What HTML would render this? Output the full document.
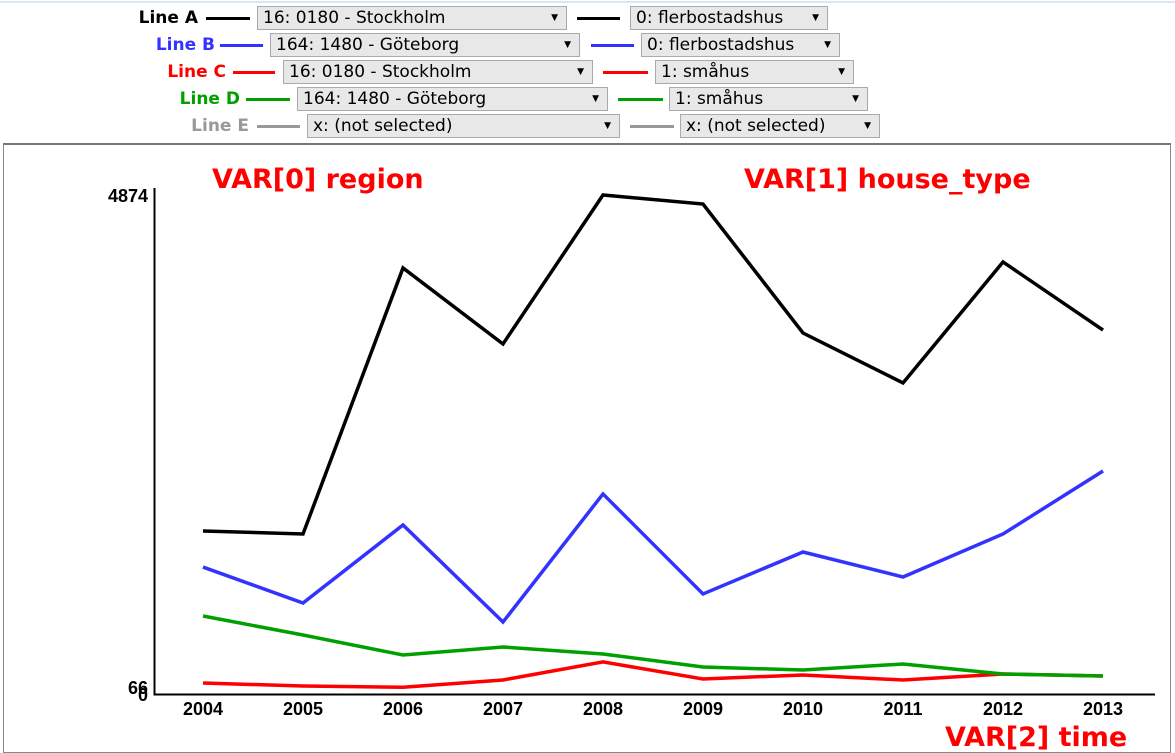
<!DOCTYPE html>
<html><head><meta charset="utf-8"><style>
body{margin:0;width:1175px;height:750px;background:#fff;font-family:"DejaVu Sans","Liberation Sans",sans-serif;position:relative;overflow:hidden}
.lbl{position:absolute;font-weight:bold;font-size:17px;text-align:right;width:120px;line-height:24px}
.seg{position:absolute;height:3px}
.sel{position:absolute;height:24px;background:#e8e8e8;border:1px solid #aaa;box-sizing:border-box;font-size:17px;line-height:22px;padding-left:5px;color:#000;white-space:nowrap}
.sel span{position:absolute;right:8px;top:0;font-size:9px}
</style></head><body>
<div style="position:absolute;left:0;top:1px;width:1175px;height:2px;background:#dde6f5"></div>
<div id="ctrl"></div>
<div style="position:absolute;left:3px;top:143px;width:1168px;height:610px;border:1px solid #888;border-top:2px solid #777;box-sizing:border-box"></div>
<svg id="chart" width="1175" height="750" style="position:absolute;left:0;top:0" font-family="Liberation Sans, sans-serif"></svg>
<script>
const rows=[
 {n:'Line A',c:'#000',lx:198,s1:[206,250],b1:[257,567],t1:'16: 0180 - Stockholm',s2:[577,620],b2:[630,828],t2:'0: flerbostadshus'},
 {n:'Line B',c:'#3333ff',lx:215,s1:[220,263],b1:[270,580],t1:'164: 1480 - Göteborg',s2:[591,634],b2:[641,840],t2:'0: flerbostadshus'},
 {n:'Line C',c:'#ff0000',lx:226,s1:[233,275],b1:[283,593],t1:'16: 0180 - Stockholm',s2:[603,648],b2:[655,854],t2:'1: småhus'},
 {n:'Line D',c:'#00a000',lx:240,s1:[246,290],b1:[297,608],t1:'164: 1480 - Göteborg',s2:[618,663],b2:[669,868],t2:'1: småhus'},
 {n:'Line E',c:'#999',lx:249,s1:[257,300],b1:[307,620],t1:'x: (not selected)',s2:[630,674],b2:[680,880],t2:'x: (not selected)'}];
const ctrl=document.getElementById('ctrl');
rows.forEach((r,i)=>{
 const cy=18+27*i;
 let h='';
 h+=`<div class="lbl" style="left:${r.lx-120}px;top:${cy-12}px;color:${r.c}">${r.n}</div>`;
 h+=`<div class="seg" style="left:${r.s1[0]}px;width:${r.s1[1]-r.s1[0]}px;top:${cy-1}px;background:${r.c}"></div>`;
 h+=`<div class="sel" style="left:${r.b1[0]}px;width:${r.b1[1]-r.b1[0]}px;top:${cy-12}px">${r.t1}<span>▼</span></div>`;
 h+=`<div class="seg" style="left:${r.s2[0]}px;width:${r.s2[1]-r.s2[0]}px;top:${cy-1}px;background:${r.c}"></div>`;
 h+=`<div class="sel" style="left:${r.b2[0]}px;width:${r.b2[1]-r.b2[0]}px;top:${cy-12}px">${r.t2}<span>▼</span></div>`;
 ctrl.insertAdjacentHTML('beforeend',h);
});
</script>
<script>
const years=[2004,2005,2006,2007,2008,2009,2010,2011,2012,2013];
const lineA=[1592,1563,4161,3419,4874,4786,3526,3038,4220,3555];
const lineB=[1240,889,1651,703,1954,977,1387,1143,1563,2178];
const lineC=[107,78,66,137,313,147,186,137,195,176];
const lineD=[762,576,381,459,391,264,234,293,195,176];
const yTicks=[0,66,4874];
const yMax=4874;
const svg=document.getElementById('chart');
const NS='http://www.w3.org/2000/svg';
const x=i=>203+i*100;
const y=v=>694-v/yMax*499;
function mk(t,a,txt){const e=document.createElementNS(NS,t);for(const k in a)e.setAttribute(k,a[k]);if(txt!=null)e.textContent=txt;svg.appendChild(e);return e;}
let ax=mk('path',{d:'M154.5 188 V694.5 H1155',stroke:'#000','stroke-width':2,fill:'none'});


yTicks.forEach(v=>{const t=mk('text',{x:148,y:y(v)+7,'text-anchor':'end','font-size':18,'font-weight':'bold'},v);

});
years.forEach((yr,i)=>{const t=mk('text',{x:x(i),y:715,'text-anchor':'middle','font-size':18,'font-weight':'bold'},yr);

});
[[lineA,'#000','line-a'],[lineB,'#3333ff','line-b'],[lineC,'#ff0000','line-c'],[lineD,'#00a000','line-d']].forEach(([d,c,n])=>{
 const p=mk('polyline',{points:d.map((v,i)=>x(i)+','+y(v)).join(' '),stroke:c,'stroke-width':3.5,fill:'none','stroke-linejoin':'miter'});
 
 
});
const titles=[['VAR[0] region',212,188],['VAR[1] house_type',744,188],['VAR[2] time',945,746]];
titles.forEach(([t,tx,ty])=>{const e=mk('text',{x:tx,y:ty,fill:'#ff0000','font-size':27,'font-weight':'bold','font-family':'DejaVu Sans, sans-serif'},t);

});
</script>
</body></html>
